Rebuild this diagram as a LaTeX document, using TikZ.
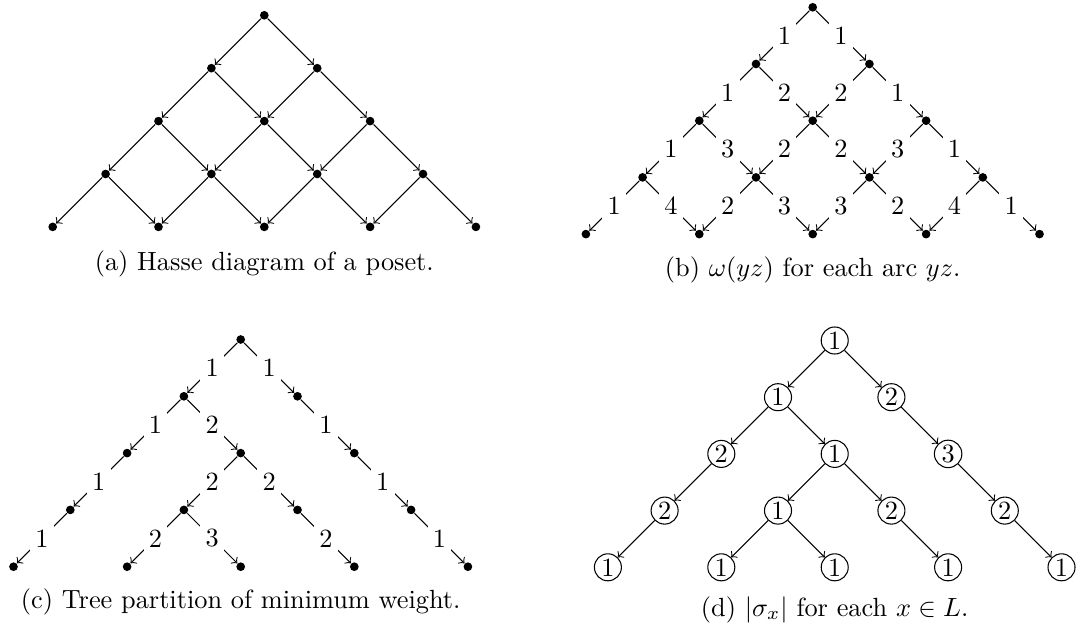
\documentclass[tikz,border=0pt]{standalone}
\begin{document}
\begin{tikzpicture}[x=0.38pt,y=-0.38pt,
  dot/.style={circle,fill=black,inner sep=0pt,minimum size=3.3pt},
  num/.style={circle,draw,line width=0.4pt,inner sep=0.7pt},
  arc/.style={->,line width=0.4pt},
  wlab/.style={fill=white,inner sep=2pt},
  captxt/.style={anchor=base,inner sep=0pt}]
\useasboundingbox (0,0) rectangle (1085,628);

% ---------- (a) Hasse diagram ----------
\foreach \r in {0,...,4}{
  \foreach \i in {0,...,\r}{
    \node[dot] (a\r\i) at ({264.3+(2*\i-\r)*52.9},{15.3+\r*52.9}) {};
  }
}
\foreach \r in {0,...,3}{
  \foreach \i in {0,...,\r}{
    \pgfmathtruncatemacro{\rn}{\r+1}
    \pgfmathtruncatemacro{\ii}{\i+1}
    \draw[arc] (a\r\i) -- (a\rn\i);
    \draw[arc] (a\r\i) -- (a\rn\ii);
  }
}
\node[captxt] (capa) at (264.3,270) {(a) Hasse diagram of a poset.};

% ---------- (b) weights ----------
\foreach \r in {0,...,4}{
  \foreach \i in {0,...,\r}{
    \node[dot] (b\r\i) at ({812.7+(2*\i-\r)*56.7},{7.3+\r*56.7}) {};
  }
}
\foreach \r in {0,...,3}{
  \foreach \i in {0,...,\r}{
    \pgfmathtruncatemacro{\rn}{\r+1}
    \pgfmathtruncatemacro{\ii}{\i+1}
    \pgfmathtruncatemacro{\wL}{\i+1}
    \pgfmathtruncatemacro{\wR}{\r-\i+1}
    \draw[arc] (b\r\i) -- node[wlab]{\wL} (b\rn\i);
    \draw[arc] (b\r\i) -- node[wlab]{\wR} (b\rn\ii);
  }
}
\node[captxt] (capb) at (812.7,276) {(b) $\omega(yz)$ for each arc $yz$.};

% ---------- (c) tree partition ----------
\foreach \r in {0,...,4}{
  \foreach \i in {0,...,\r}{
    \node[dot] (c\r\i) at ({240.7+(2*\i-\r)*56.8},{339.5+\r*56.8}) {};
  }
}
\foreach \s/\t/\w in {00/10/1, 00/11/1, 10/20/1, 10/21/2, 11/22/1, 20/30/1,
  21/31/2, 21/32/2, 22/33/1, 30/40/1, 31/41/2, 31/42/3, 32/43/2, 33/44/1}{
  \draw[arc] (c\s) -- node[wlab]{\w} (c\t);
}
\node[captxt] (capc) at (240.7,608) {(c) Tree partition of minimum weight.};

% ---------- (d) sizes ----------
\foreach \r/\i/\v in {0/0/1, 1/0/1, 1/1/2, 2/0/2, 2/1/1, 2/2/3, 3/0/2, 3/1/1,
  3/2/2, 3/3/2, 4/0/1, 4/1/1, 4/2/1, 4/3/1, 4/4/1}{
  \node[num] (d\r\i) at ({834.7+(2*\i-\r)*56.7},{340.5+\r*56.7}) {\v};
}
\foreach \s/\t in {00/10, 00/11, 10/20, 10/21, 11/22, 20/30,
  21/31, 21/32, 22/33, 30/40, 31/41, 31/42, 32/43, 33/44}{
  \draw[arc] (d\s) -- (d\t);
}
\node[captxt] (capd) at (834.7,616) {(d) $|\sigma_x|$ for each $x \in L$.};
\end{tikzpicture}
\end{document}
